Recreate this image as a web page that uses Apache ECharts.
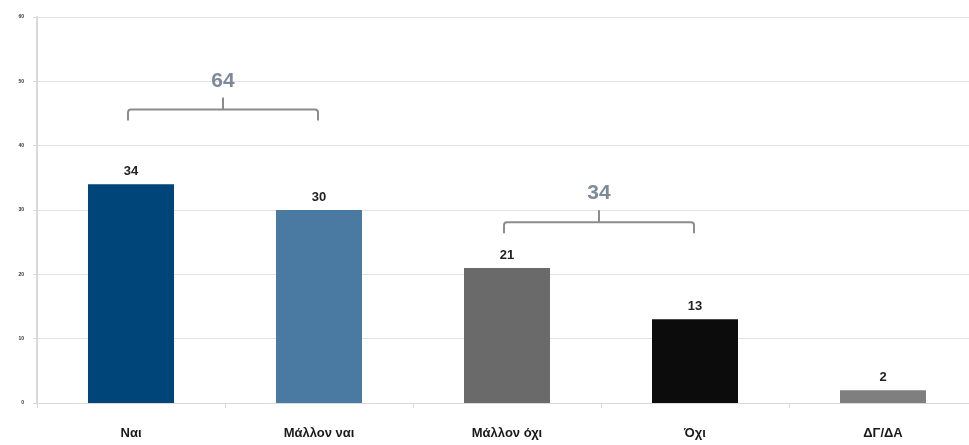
<!DOCTYPE html>
<html>
<head>
<meta charset="utf-8">
<script src="https://cdn.jsdelivr.net/npm/echarts@6/dist/echarts.min.js"></script>
<style>html,body{margin:0;padding:0;background:#fff;overflow:hidden;width:969px;height:445px}#c{width:985px;height:445px}</style>
</head>
<body>
<div id="c"></div>
<script>
var categories = ['Ναι', 'Μάλλον ναι', 'Μάλλον όχι', 'Όχι', 'ΔΓ/ΔΑ'];
var values = [34, 30, 21, 13, 2];
var barColors = ['#00457a', '#4a7aa1', '#6a6a6a', '#0c0c0c', '#7f7f7f'];
var yTicks = [0, 10, 20, 30, 40, 50, 60];
// grouped totals shown with brackets
var bracketFrom = [0, 2];
var bracketTo = [1, 3];
var bracketTotals = [64, 34];
var bracketLevels = [43.9, 26.4];

var chart = echarts.init(document.getElementById('c'));
var font = '"Liberation Sans Narrow", "Liberation Sans", Arial, sans-serif';

chart.setOption({
  animation: false,
  grid: { left: 37, top: 17, bottom: 42, right: 8, containLabel: false },
  xAxis: {
    type: 'category',
    data: categories,
    axisLine: { lineStyle: { color: '#d9d9d9', width: 1 } },
    axisTick: { show: true, length: 5, lineStyle: { color: '#d9d9d9' } },
    axisLabel: { margin: 24, fontFamily: font, fontWeight: 'bold', fontSize: 13, color: '#1a1a1a' }
  },
  yAxis: {
    type: 'value',
    min: yTicks[0],
    max: yTicks[yTicks.length - 1],
    interval: 10,
    axisLine: { show: true, lineStyle: { color: '#d9d9d9', width: 2 } },
    axisTick: { show: true, length: 4, lineStyle: { color: '#d9d9d9' } },
    splitLine: { lineStyle: { color: '#e3e3e3', width: 1 } },
    axisLabel: { margin: 13, fontSize: 5, fontWeight: 'bold', color: '#333', fontFamily: font }
  },
  series: [
    {
      type: 'bar',
      barWidth: 86,
      data: values.map(function (v, i) { return { value: v, itemStyle: { color: barColors[i] } }; }),
      label: {
        show: true, position: 'top', distance: 6,
        fontFamily: font, fontWeight: 'bold', fontSize: 13, color: '#222'
      }
    },
    {
      type: 'custom',
      coordinateSystem: 'cartesian2d',
      silent: true,
      z: 5,
      data: bracketTotals.map(function (t, i) { return [bracketFrom[i], bracketTo[i], bracketLevels[i], t]; }),
      encode: { x: [0, 1], y: 2 },
      renderItem: function (params, api) {
        var a = api.coord([api.value(0), api.value(2)]);
        var b = api.coord([api.value(1), api.value(2)]);
        var x1 = a[0] - 3, x2 = b[0] - 1, yb = a[1];
        var h = 11, r = 3;
        var yt = yb - h;
        var xm = (x1 + x2) / 2;
        var path = 'M' + x1 + ' ' + yb + ' L' + x1 + ' ' + (yt + r) +
          ' Q' + x1 + ' ' + yt + ' ' + (x1 + r) + ' ' + yt +
          ' L' + (x2 - r) + ' ' + yt +
          ' Q' + x2 + ' ' + yt + ' ' + x2 + ' ' + (yt + r) +
          ' L' + x2 + ' ' + yb +
          ' M' + xm + ' ' + yt + ' L' + xm + ' ' + (yt - 12);
        return {
          type: 'group',
          children: [
            { type: 'path', shape: { pathData: path }, style: { fill: null, stroke: '#8c8c8c', lineWidth: 2 } },
            { type: 'text', style: {
                text: String(api.value(3)), x: xm, y: yt - 18,
                align: 'center', verticalAlign: 'bottom',
                font: 'bold 21px ' + font, fill: '#7d8a99'
              } }
          ]
        };
      }
    }
  ]
});
</script>
</body>
</html>
